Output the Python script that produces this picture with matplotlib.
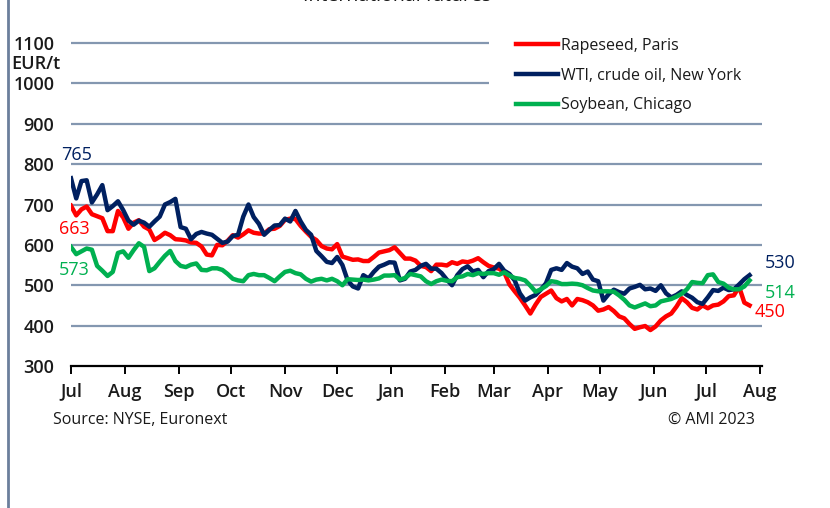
import matplotlib
matplotlib.use("Agg")
import matplotlib.pyplot as plt
import matplotlib.dates as mdates
from matplotlib.lines import Line2D
import pandas as pd

plt.rcParams['font.family'] = ['Open Sans', 'DejaVu Sans']

# values every 3 days, starting 1 Jul 2022 (EUR/t)
datumy = pd.date_range("2022-07-01", periods=131, freq="3D")

rapeseed = [697, 673, 688, 695, 676, 671, 666, 634, 634, 684, 668, 640, 655, 661, 645, 638, 612, 620, 630, 624,
            614, 613, 611, 606, 605, 596, 576, 574, 600, 599, 610, 624, 618, 626, 636,
            630, 628, 628, 639, 640, 647, 662, 665, 664, 647, 633, 620, 612, 597, 591, 589, 602, 571, 567, 563,
            564, 560, 560, 570, 581, 584, 587, 594, 580, 566, 566, 561, 548,
            545, 535, 551, 551, 549, 557, 553, 559, 557, 561, 567, 557, 548, 544, 541, 532, 502, 485, 469, 450,
            430, 452, 471, 479, 487, 468, 460, 466, 450, 466, 463, 458, 450, 437,
            440, 446, 436, 423, 418, 404, 392, 396, 399, 389, 398, 413, 423, 430, 447, 468, 458, 444, 440, 450,
            443, 450, 452, 460, 473, 475, 496, 457, 450]

wti = [765, 715, 758, 760, 705, 725, 748, 686, 696, 708, 686, 660, 650, 660, 655, 645, 658, 670, 700, 706,
       714, 644, 640, 614, 627, 632, 628, 625, 615, 605, 608, 622, 625, 670, 700,
       669, 652, 625, 637, 648, 649, 665, 658, 684, 658, 637, 625, 585, 572, 558, 555, 570, 550, 512, 497,
       492, 525, 517, 533, 546, 551, 557, 556, 512, 516, 534, 538, 548,
       553, 541, 541, 530, 514, 500, 525, 540, 547, 534, 538, 520, 535, 540, 553, 536, 528, 512, 480, 462,
       470, 476, 489, 505, 538, 542, 538, 555, 546, 542, 528, 534, 514, 510,
       462, 478, 489, 483, 479, 492, 496, 501, 490, 492, 486, 500, 480, 470, 476, 485, 476, 469, 458, 454,
       470, 488, 486, 494, 488, 490, 502, 515, 525]

soybean = [595, 577, 584, 591, 588, 548, 536, 523, 533, 580, 584, 568, 587, 604, 595, 535, 542, 558, 573, 585,
           560, 548, 545, 551, 554, 538, 537, 542, 542, 538, 528, 516, 512, 510, 525,
           528, 525, 525, 518, 510, 522, 533, 536, 530, 527, 516, 509, 514, 516, 512, 516, 510, 500, 515, 514,
           513, 514, 512, 514, 517, 524, 524, 525, 514, 518, 528, 525, 522,
           510, 503, 510, 514, 511, 510, 520, 522, 528, 525, 530, 528, 530, 530, 526, 532, 524, 518, 516, 512,
           499, 484, 490, 498, 510, 508, 503, 503, 504, 503, 500, 493, 487, 485,
           485, 485, 484, 475, 464, 450, 445, 450, 455, 448, 450, 460, 463, 466, 472, 479, 490, 508, 506, 505,
           525, 527, 508, 504, 494, 490, 490, 497, 512]

nazvy = ["Rapeseed, Paris", "WTI, crude oil, New York", "Soybean, Chicago"]
barvy = ["#ff0000", "#002060", "#00b050"]
start_labels = ["663", "765", "573"]
end_labels = ["450", "530", "514"]

yticks = [400, 500, 600, 700, 800, 900, 1000, 1100]
txt_col = "#1a1a1a"

fig = plt.figure(figsize=(8.3, 5.08), dpi=100)
ax = fig.add_axes([71 / 830, 1 - 366 / 508, 689 / 830, 323 / 508])

# grid lines, upper two stop before the legend
grid_col = "#8497b0"
for y in yticks:
    konec = pd.Timestamp("2023-02-26") if y >= 1000 else pd.Timestamp("2023-08-02")
    ax.hlines(y, datumy[0], konec, color=grid_col, lw=1.6, clip_on=False, zorder=1)

for serie, barva, nazev in zip([rapeseed, wti, soybean], barvy, nazvy):
    ax.plot(datumy, serie, color=barva, lw=3.2, label=nazev, zorder=3, solid_joinstyle="round")

ax.set_xlim(pd.Timestamp("2022-07-01"), pd.Timestamp("2023-08-01"))
ax.set_ylim(300, 1100)

for s in ["top", "right", "left"]:
    ax.spines[s].set_visible(False)
ax.spines["bottom"].set_color("black")
ax.spines["bottom"].set_linewidth(1.6)
ax.spines["bottom"].set_bounds(mdates.date2num(pd.Timestamp("2022-07-01")),
                               mdates.date2num(pd.Timestamp("2023-08-02")))

ax.xaxis.set_major_locator(mdates.MonthLocator())
ax.xaxis.set_major_formatter(mdates.DateFormatter("%b"))
ax.tick_params(axis="x", length=6, width=1.4, color="black", labelsize=13, pad=6, labelcolor=txt_col)

ax.set_yticks([300] + yticks)
ax.set_yticklabels([str(v) for v in [300] + yticks])
ax.tick_params(axis="y", length=0, labelsize=13, pad=12, labelcolor=txt_col)
for lab in ax.get_xticklabels() + ax.get_yticklabels():
    lab.set_fontweight("semibold")
ax.text(-0.086, 0.935, "EUR/t", transform=ax.transAxes, fontsize=13, color=txt_col,
        fontweight="semibold", ha="left", va="center")

# legend
leg = ax.legend(loc="upper left", bbox_to_anchor=(0.625, 1.06), frameon=False, fontsize=11.5,
                handlelength=2.6, handletextpad=0.2, labelspacing=0.85)
for t in leg.get_texts():
    t.set_color(txt_col)

# value labels
start_y = [639, 822, 538]
start_x = ["2022-07-03", "2022-07-04", "2022-07-03"]
end_y = [434, 555, 481]
end_x = ["2023-07-29", "2023-08-04", "2023-08-04"]
for txt, barva, x, y in zip(start_labels, barvy, start_x, start_y):
    ax.text(pd.Timestamp(x), y, txt, color=barva, fontsize=13, ha="center", va="center")
for txt, barva, x, y in zip(end_labels, barvy, end_x, end_y):
    ax.text(pd.Timestamp(x), y, txt, color=barva, fontsize=13, ha="left", va="center")

fig.text(53 / 830, 1 - 420 / 508, "Source: NYSE, Euronext", fontsize=11.5, color=txt_col, va="center")
fig.text(755 / 830, 1 - 420 / 508, "© AMI 2023", fontsize=11.5, color=txt_col, va="center", ha="right")
fig.text(397 / 830, 1 - 1 / 508, "International futures", fontsize=14, color=txt_col,
         ha="center", va="baseline")

fig.add_artist(Line2D([8 / 830, 8 / 830], [0, 1], transform=fig.transFigure, color="#6b7f9c", lw=2))

fig.savefig("out.png", dpi=100)
